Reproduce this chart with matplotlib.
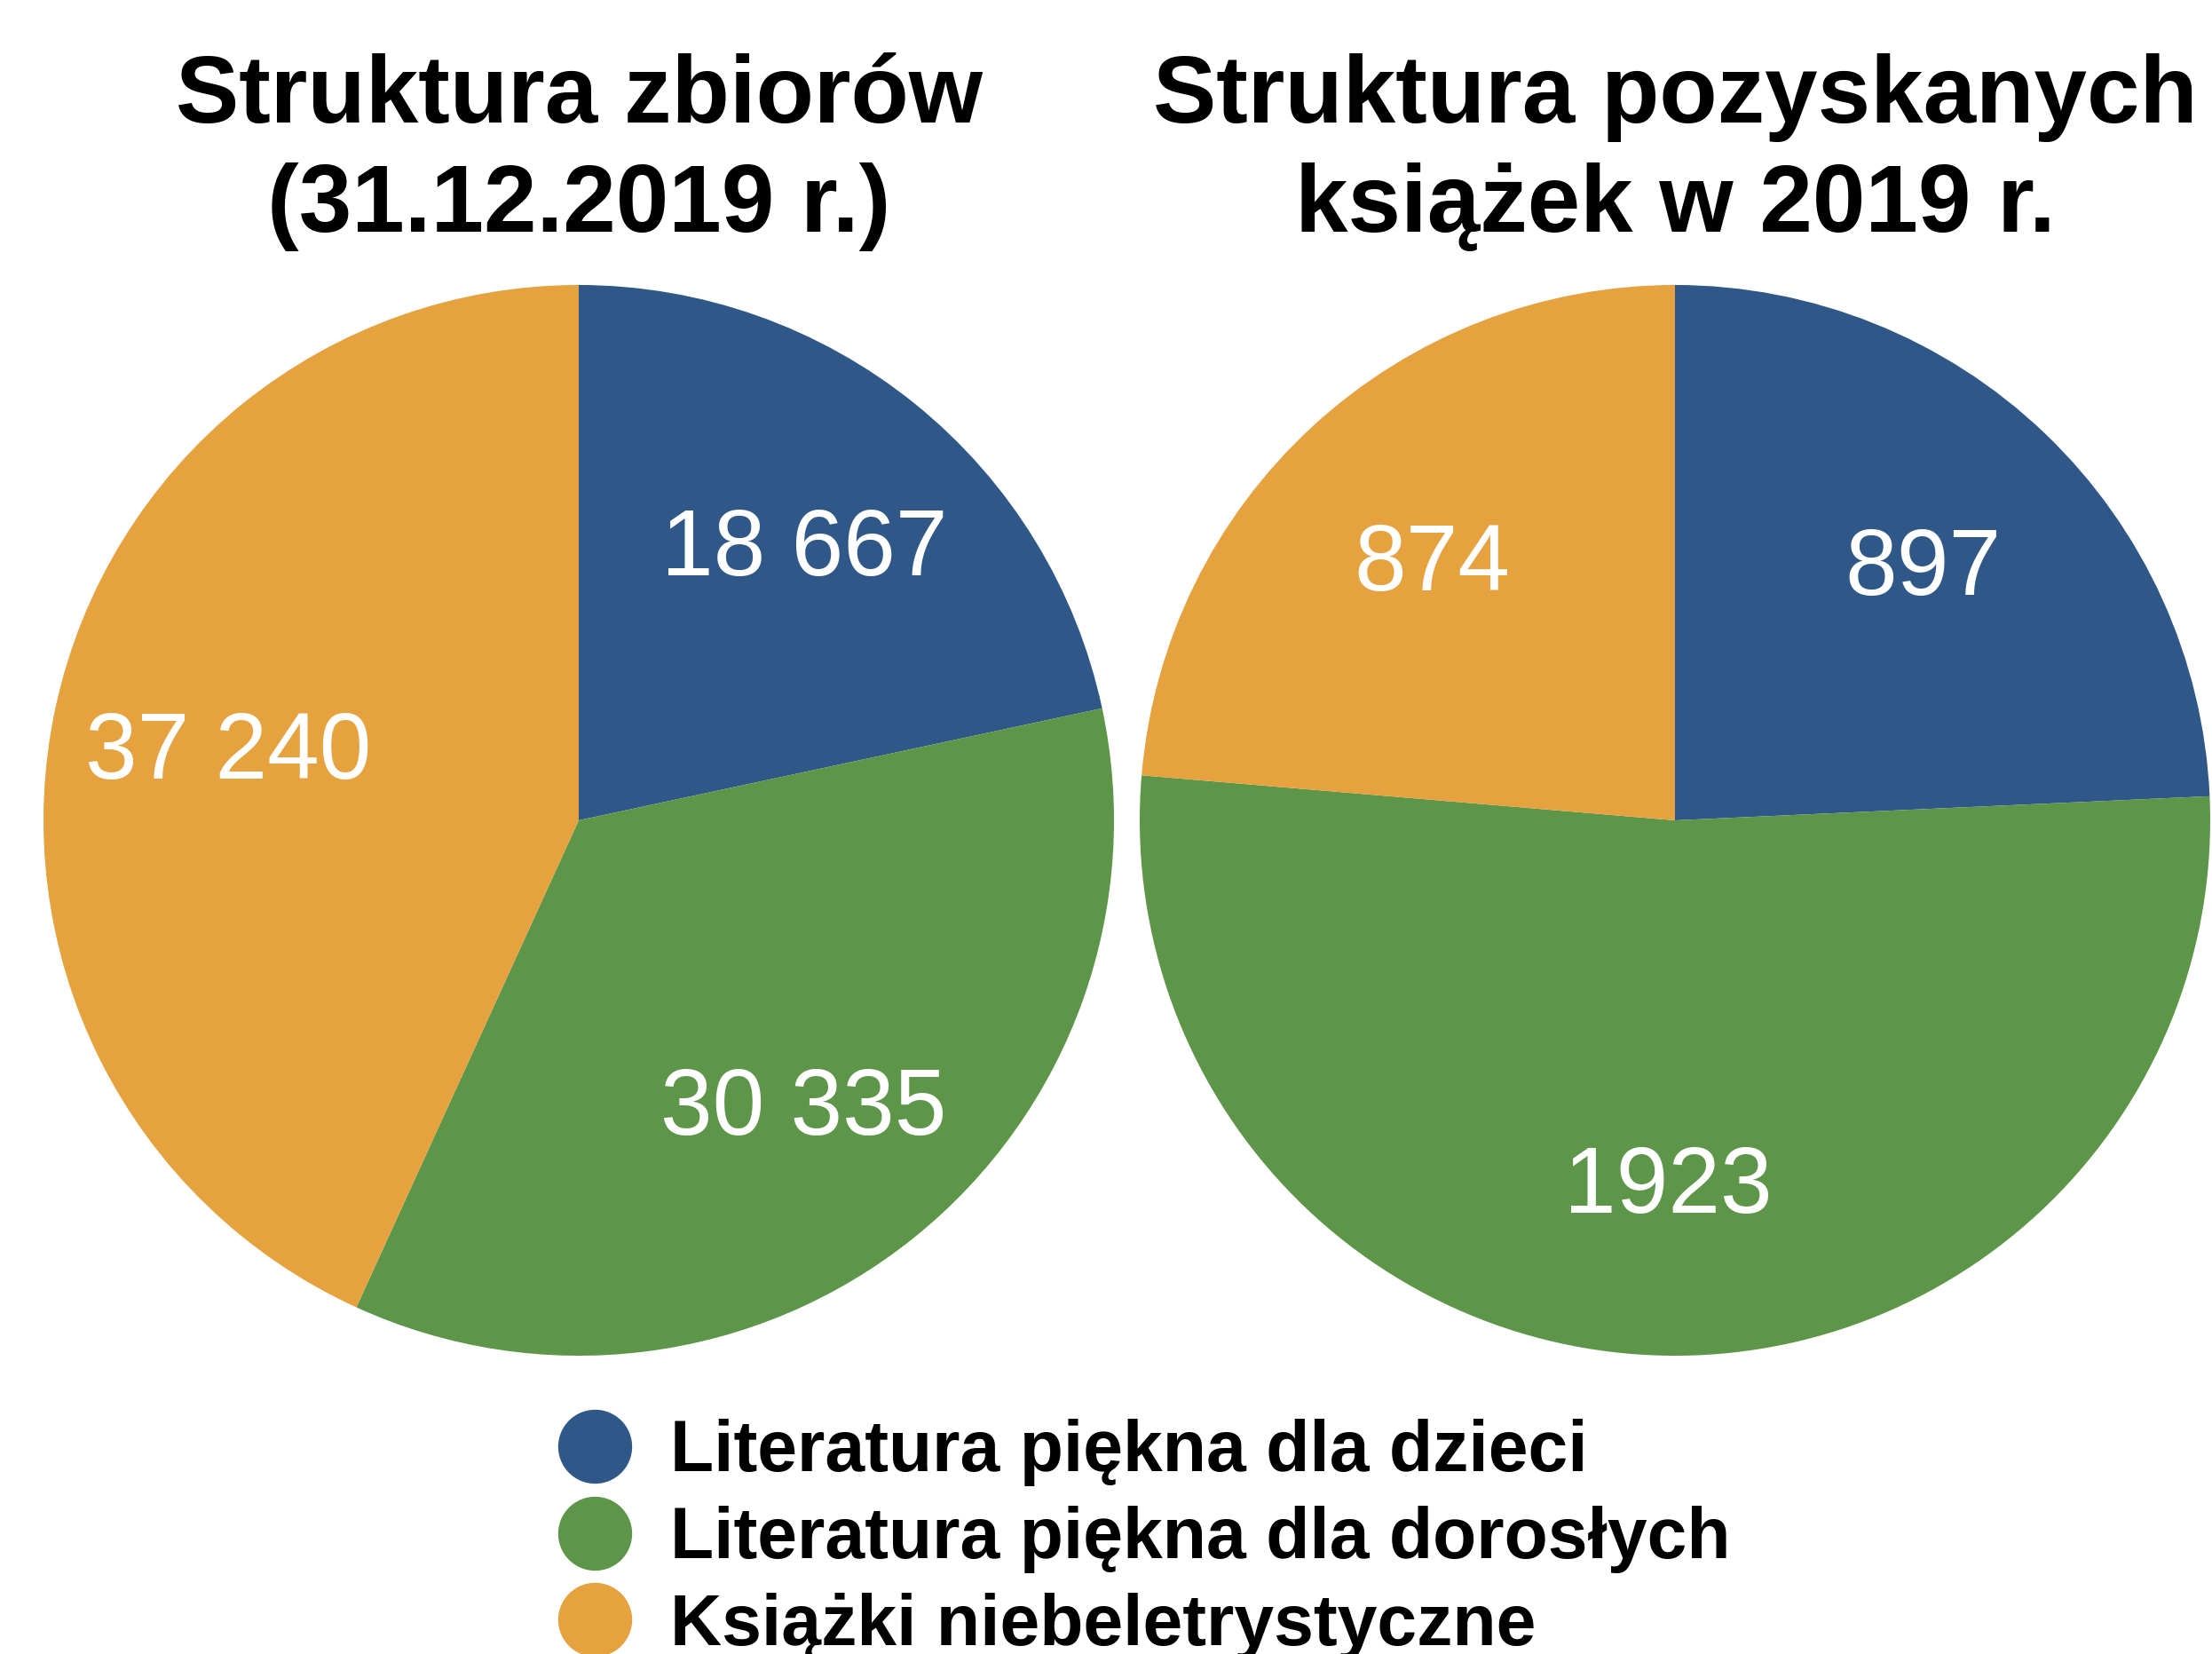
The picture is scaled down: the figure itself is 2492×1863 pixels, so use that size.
import matplotlib.pyplot as plt
from matplotlib.lines import Line2D

plt.rcParams['font.family'] = ['Liberation Sans', 'DejaVu Sans']

# dane
kategorie = ['Literatura piękna dla dzieci',
             'Literatura piękna dla dorosłych',
             'Książki niebeletrystyczne']
zbiory = [18667, 30335, 37240]
zbiory_etykiety = ['18 667', '30 335', '37 240']
nabytki = [897, 1923, 874]
nabytki_etykiety = ['897', '1923', '874']
kolory = ['#2F5889', '#5D9549', '#E5A23E']

tytul_lewy = 'Struktura zbiorów\n(31.12.2019 r.)'
tytul_prawy = 'Struktura pozyskanych\nksiążek w 2019 r.'

W, H = 2492, 1863
fig = plt.figure(figsize=(W / 100, H / 100), dpi=100)

R = 603
cy = 924

def rysuj_kolo(cx, wartosci, etykiety, tytul):
    ax = fig.add_axes([(cx - R) / W, (H - cy - R) / H, 2 * R / W, 2 * R / H])
    ax.pie(wartosci, labels=etykiety, colors=kolory, startangle=90,
           counterclock=False, radius=1, labeldistance=0.67,
           wedgeprops=dict(linewidth=0),
           textprops=dict(color='white', fontsize=76,
                          ha='center', va='center_baseline'))
    ax.set_xlim(-1, 1)
    ax.set_ylim(-1, 1)
    ax.set_aspect('equal')
    ax.axis('off')
    fig.text(cx / W, 1 - 60 / H, tytul, ha='center', va='top',
             fontsize=77, fontweight='bold', linespacing=1.3)
    return ax

rysuj_kolo(652, zbiory, zbiory_etykiety, tytul_lewy)
rysuj_kolo(1887, nabytki, nabytki_etykiety, tytul_prawy)

uchwyty = [Line2D([], [], linestyle='none', marker='o', markersize=60,
                  markerfacecolor=k, markeredgewidth=0) for k in kolory]
fig.legend(uchwyty, kategorie, loc='upper left',
           bbox_to_anchor=(630 / W, 1 - 1598 / H), frameon=False,
           prop=dict(size=58, weight='bold'), handlelength=1.0,
           handletextpad=0.55, labelspacing=0.27, borderpad=0,
           borderaxespad=0)

fig.savefig('out.png', dpi=100)
